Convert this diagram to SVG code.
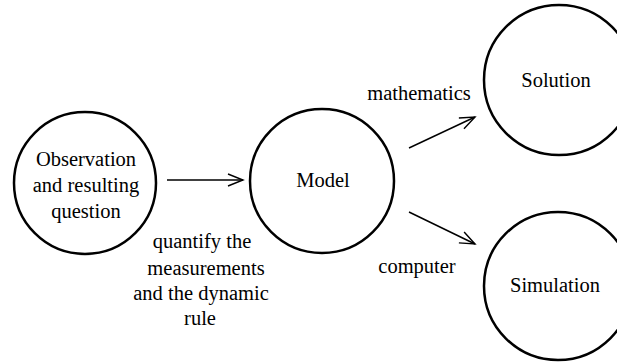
<svg xmlns="http://www.w3.org/2000/svg" width="617" height="362" viewBox="0 0 617 362">
<style>
.node{fill:none;stroke:#000;stroke-width:2.5}
.lbl{font-family:"Liberation Serif",serif;font-size:20.5px;fill:#000;text-anchor:middle}
.edge{fill:none;stroke:#000;stroke-width:1.4}
</style>
<defs>
<marker id="ah" markerUnits="userSpaceOnUse" markerWidth="20" markerHeight="16" refX="16" refY="8" orient="auto" viewBox="0 0 20 16">
<path d="M1,2 L16,8 L1,14" fill="none" stroke="#000" stroke-width="1.4"/>
</marker>
</defs>
<rect width="617" height="362" fill="#fff"/>
<g id="observation">
<circle class="node" cx="85" cy="183" r="71"/>
<text class="lbl" x="86" y="166">Observation</text>
<text class="lbl" x="86" y="192">and resulting</text>
<text class="lbl" x="86" y="218">question</text>
</g>
<g id="model">
<circle class="node" cx="322" cy="181" r="72"/>
<text class="lbl" x="323" y="187">Model</text>
</g>
<g id="solution">
<circle class="node" cx="559" cy="80" r="75"/>
<text class="lbl" x="556" y="87">Solution</text>
</g>
<g id="simulation">
<circle class="node" cx="558" cy="286" r="74"/>
<text class="lbl" x="555" y="292">Simulation</text>
</g>
<g id="connectors">
<line class="edge" x1="167" y1="180" x2="243" y2="180" marker-end="url(#ah)"/>
<line class="edge" x1="409" y1="148" x2="475" y2="117" marker-end="url(#ah)"/>
<line class="edge" x1="409" y1="212" x2="475" y2="244" marker-end="url(#ah)"/>
</g>
<g id="labels">
<text class="lbl" x="419" y="100">mathematics</text>
<text class="lbl" x="417" y="273">computer</text>
<text class="lbl" x="202" y="248">quantify the</text>
<text class="lbl" x="206" y="275">measurements</text>
<text class="lbl" x="201" y="300">and the dynamic</text>
<text class="lbl" x="200" y="325">rule</text>
</g>
</svg>
